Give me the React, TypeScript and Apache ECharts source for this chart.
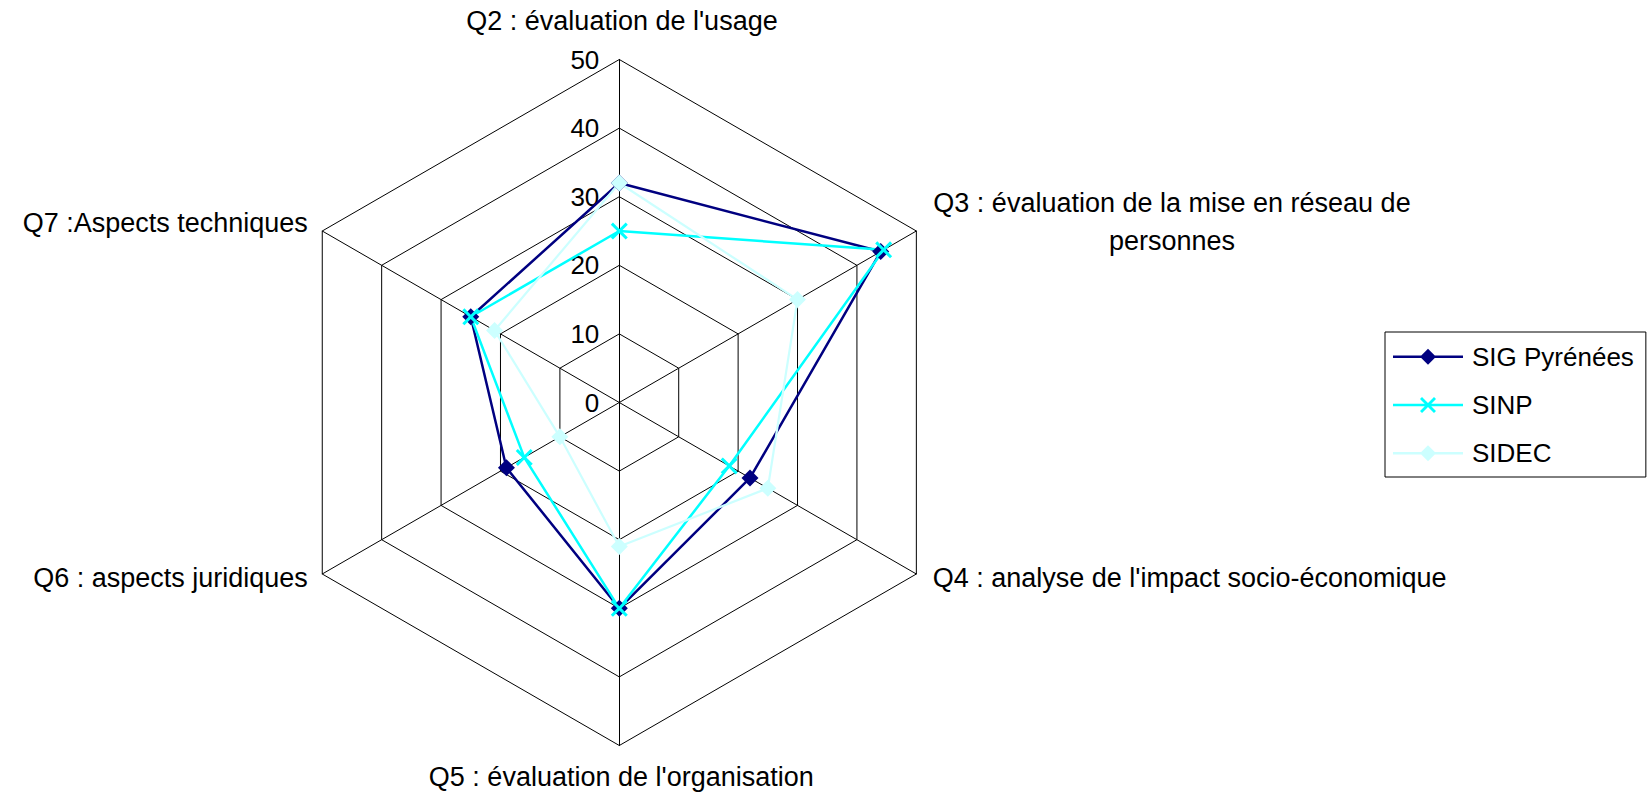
import React, { useEffect, useRef } from "react";
import * as echarts from "echarts";

// ---- data ----
const questions = [
  "Q2 : évaluation de l'usage",
  "Q3 : évaluation de la mise en réseau de\npersonnes",
  "Q4 : analyse de l'impact socio-économique",
  "Q5 : évaluation de l'organisation",
  "Q6 : aspects juridiques",
  "Q7 :Aspects techniques",
];
const seriesNames = ["SIG Pyrénées", "SINP", "SIDEC"];
const sigPyrenees = [32, 44, 22, 30, 19, 25];
const sinp = [25, 44.5, 18.5, 30, 16, 25];
const sidec = [32, 30, 25, 21, 10, 21];
const axisMax = 50;
const splitCount = 5;

const FONT = '"Liberation Sans", Arial, sans-serif';

export default function App() {
  const ref = useRef<HTMLDivElement>(null);

  useEffect(() => {
    if (!ref.current) return;
    const chart = echarts.init(ref.current, null, { renderer: "svg" });

    // ECharts radar places indicators counter-clockwise; the reference runs clockwise.
    const order = [0, 5, 4, 3, 2, 1];
    const reorder = (arr: number[]) => order.map((i) => arr[i]);

    const cx = 619.3;
    const cy = 402.5;
    const R = 343;

    // label placement (layout only)
    const labelLayout = [
      { x: 622, y: 21, align: "center" },
      { x: 1172, y: 221.6, align: "center" },
      { x: 932.7, y: 577.7, align: "left" },
      { x: 621.3, y: 777.3, align: "center" },
      { x: 307.8, y: 577.7, align: "right" },
      { x: 307.8, y: 222.7, align: "right" },
    ];

    const xSymbol =
      "path://M0,2 L2,0 L8,6 L14,0 L16,2 L10,8 L16,14 L14,16 L8,10 L2,16 L0,14 L6,8 Z";
    const legendDiamond =
      "path://M0,6.8 L70,6.8 L70,9.2 L0,9.2 Z M35,0 L43,8 L35,16 L27,8 Z";
    const legendX =
      "path://M0,6.8 L70,6.8 L70,9.2 L0,9.2 Z M27,2 L29,0 L35,6 L41,0 L43,2 L37,8 L43,14 L41,16 L35,10 L29,16 L27,14 L33,8 Z";

    const option: any = {
      animation: false,
      backgroundColor: "#fff",
      textStyle: { fontFamily: FONT },
      legend: {
        orient: "vertical",
        left: 1385,
        top: 332,
        padding: [11.7, 12, 10.7, 8],
        itemGap: 22.3,
        itemWidth: 70,
        itemHeight: 16,
        borderColor: "#000",
        borderWidth: 1,
        textStyle: { fontSize: 26, color: "#000", fontFamily: FONT, padding: [0, 0, 0, 4] },
        data: [
          { name: seriesNames[0], icon: legendDiamond },
          { name: seriesNames[1], icon: legendX },
          { name: seriesNames[2], icon: legendDiamond },
        ],
      },
      radar: {
        center: [cx, cy],
        radius: R,
        startAngle: 90,
        shape: "polygon",
        splitNumber: splitCount,
        axisName: { show: false },
        axisLine: { show: true, lineStyle: { color: "#000", width: 1 } },
        splitLine: { show: true, lineStyle: { color: "#000", width: 1 } },
        splitArea: { show: false },
        axisTick: { show: false },
        axisLabel: { show: false },
        indicator: order.map((i, k) => ({
          name: questions[i],
          min: 0,
          max: axisMax,
          ...(k === 0
            ? {
                axisLabel: {
                  show: true,
                  color: "#000",
                  fontSize: 26,
                  fontFamily: FONT,
                  margin: 20,
                  showMinLabel: true,
                  showMaxLabel: true,
                },
              }
            : {}),
        })),
      },
      graphic: questions.map((q, i) => ({
        type: "text",
        x: labelLayout[i].x,
        y: labelLayout[i].y,
        silent: true,
        style: {
          text: q,
          font: `27px ${FONT}`,
          fill: "#000",
          textAlign: labelLayout[i].align,
          textVerticalAlign: "middle",
          lineHeight: 38,
        },
      })),
      series: [
        {
          type: "radar",
          data: [
            {
              name: seriesNames[0],
              value: reorder(sigPyrenees),
              symbol: "diamond",
              symbolSize: 17,
              lineStyle: { color: "#000080", width: 2.5 },
              itemStyle: { color: "#000080" },
            },
            {
              name: seriesNames[1],
              value: reorder(sinp),
              symbol: xSymbol,
              symbolSize: 17,
              lineStyle: { color: "#00FFFF", width: 2.5 },
              itemStyle: { color: "#00FFFF" },
            },
            {
              name: seriesNames[2],
              value: reorder(sidec),
              symbol: "diamond",
              symbolSize: 17,
              lineStyle: { color: "#CCFFFF", width: 2.2 },
              itemStyle: { color: "#CCFFFF" },
            },
          ],
        },
      ],
    };

    chart.setOption(option);
    return () => chart.dispose();
  }, []);

  return (
    <div
      ref={ref}
      style={{ position: "fixed", left: 0, top: 0, width: 1647, height: 793, background: "#fff" }}
    />
  );
}
